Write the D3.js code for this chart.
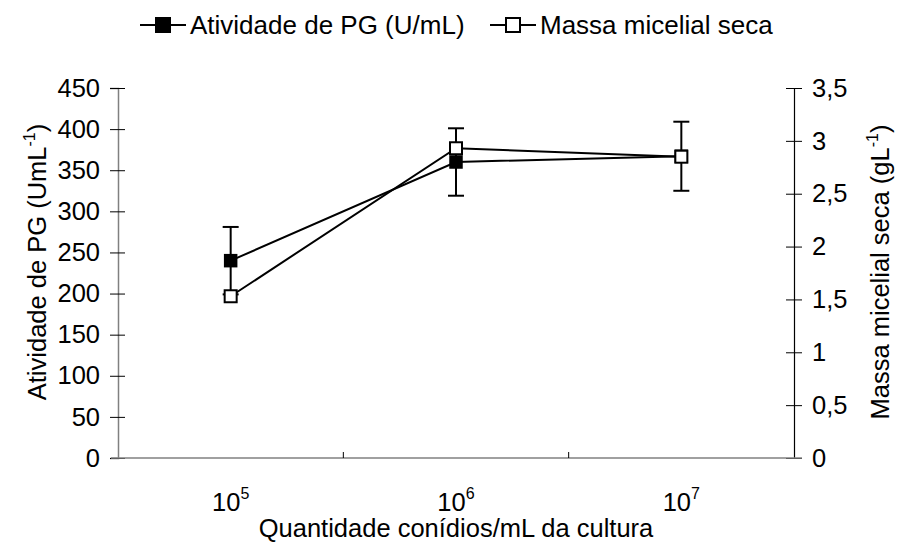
<!DOCTYPE html>
<html>
<head>
<meta charset="utf-8">
<script src="https://cdn.jsdelivr.net/npm/d3@7"></script>
<style>
  html, body { margin: 0; padding: 0; background: #fff; }
  svg { display: block; font-family: "Liberation Sans", Arial, sans-serif; }
</style>
</head>
<body>
<svg id="chart" width="897" height="543"></svg>
<script>
// Inoculum sizes (conidia/mL), shown as powers of ten
const categories = ["5", "6", "7"];
// PG activity (U/mL) with standard deviation
const pgActivity = [240, 360, 367];
const pgError = [41, 41, 42];
// Dry mycelial mass (g/L)
const dryMass = [1.53, 2.93, 2.85];
// Axis ticks
const leftTicks = [0, 50, 100, 150, 200, 250, 300, 350, 400, 450];
const rightTicks = [0, 0.5, 1, 1.5, 2, 2.5, 3, 3.5];

const svg = d3.select("#chart");
const m = { left: 118, right: 794, top: 88, bottom: 458 };
const fontSize = 25.5;
const supSize = 16;

const x = d3.scaleBand().domain(categories).range([m.left, m.right]);
const yL = d3.scaleLinear().domain([0, 450]).range([m.bottom, m.top]);
const yR = d3.scaleLinear().domain([0, 3.5]).range([m.bottom, m.top]);

const fmtComma = d => String(d).replace(".", ",");

// Left axis
const gL = svg.append("g").attr("transform", `translate(${m.left},0)`)
  .call(d3.axisLeft(yL).tickValues(leftTicks).tickSize(8).tickPadding(10));
gL.select(".domain").attr("stroke", "#808080").attr("stroke-width", 1.5);
gL.selectAll(".tick line").attr("x1", 7).attr("stroke", "#000");
gL.selectAll(".tick text").attr("font-size", fontSize).attr("font-family", "Liberation Sans, Arial, sans-serif").attr("fill", "#000");

// Right axis
const gR = svg.append("g").attr("transform", `translate(${m.right},0)`)
  .call(d3.axisRight(yR).tickValues(rightTicks).tickSize(8).tickPadding(10).tickFormat(fmtComma));
gR.select(".domain").attr("stroke", "#000").attr("stroke-width", 1.2);
gR.selectAll(".tick line").attr("x1", -8).attr("stroke", "#000");
gR.selectAll(".tick text").attr("font-size", fontSize).attr("font-family", "Liberation Sans, Arial, sans-serif").attr("fill", "#000");

// Bottom axis line and category separators
svg.append("line")
  .attr("x1", m.left - 7).attr("x2", m.right + 8)
  .attr("y1", m.bottom).attr("y2", m.bottom)
  .attr("stroke", "#808080").attr("stroke-width", 1.5);
svg.selectAll(".sep").data(categories.slice(1)).enter().append("line")
  .attr("class", "sep")
  .attr("x1", d => x(d)).attr("x2", d => x(d))
  .attr("y1", m.bottom).attr("y2", m.bottom - 6)
  .attr("stroke", "#000").attr("stroke-width", 1);

// Category labels 10^n
const xl = svg.selectAll(".xlab").data(categories).enter().append("text")
  .attr("class", "xlab")
  .attr("x", d => x(d) + x.bandwidth() / 2)
  .attr("y", 511)
  .attr("text-anchor", "middle")
  .attr("font-size", fontSize);
xl.append("tspan").text("10");
xl.append("tspan").attr("dy", -12).attr("font-size", supSize).text(d => d);

// Axis titles
svg.append("text")
  .attr("x", 456).attr("y", 537)
  .attr("text-anchor", "middle").attr("font-size", fontSize)
  .text("Quantidade conídios/mL da cultura");

const tl = svg.append("text")
  .attr("transform", "translate(46,262) rotate(-90)")
  .attr("text-anchor", "middle").attr("font-size", fontSize);
tl.append("tspan").text("Atividade de PG (UmL");
tl.append("tspan").attr("dy", -11).attr("font-size", supSize).text("-1");
tl.append("tspan").attr("dy", 11).text(")");

const tr = svg.append("text")
  .attr("transform", "translate(889,272) rotate(-90)")
  .attr("text-anchor", "middle").attr("font-size", fontSize);
tr.append("tspan").text("Massa micelial seca (gL");
tr.append("tspan").attr("dy", -11).attr("font-size", supSize).text("-1");
tr.append("tspan").attr("dy", 11).text(")");

const cx = i => x(categories[i]) + x.bandwidth() / 2;

// Error bars for PG activity
const eb = svg.append("g");
pgActivity.forEach((v, i) => {
  const xc = cx(i);
  eb.append("line").attr("x1", xc).attr("x2", xc)
    .attr("y1", yL(v - pgError[i])).attr("y2", yL(v + pgError[i]))
    .attr("stroke", "#000").attr("stroke-width", 2);
  [v - pgError[i], v + pgError[i]].forEach(e => {
    eb.append("line").attr("x1", xc - 8).attr("x2", xc + 8)
      .attr("y1", yL(e)).attr("y2", yL(e))
      .attr("stroke", "#000").attr("stroke-width", 2);
  });
});

// Series lines
const linePG = d3.line().x((d, i) => cx(i)).y(d => yL(d));
const lineMass = d3.line().x((d, i) => cx(i)).y(d => yR(d));
svg.append("path").attr("d", linePG(pgActivity))
  .attr("fill", "none").attr("stroke", "#000").attr("stroke-width", 2);
svg.append("path").attr("d", lineMass(dryMass))
  .attr("fill", "none").attr("stroke", "#000").attr("stroke-width", 2);

// Markers
const sq = 12;
svg.selectAll(".pg").data(pgActivity).enter().append("rect")
  .attr("class", "pg")
  .attr("x", (d, i) => cx(i) - sq / 2).attr("y", d => yL(d) - sq / 2)
  .attr("width", sq).attr("height", sq)
  .attr("fill", "#000").attr("stroke", "#000").attr("stroke-width", 1.5);
svg.selectAll(".mass").data(dryMass).enter().append("rect")
  .attr("class", "mass")
  .attr("x", (d, i) => cx(i) - sq / 2).attr("y", d => yR(d) - sq / 2)
  .attr("width", sq).attr("height", sq)
  .attr("fill", "#fff").attr("stroke", "#000").attr("stroke-width", 2);

// Legend
const legend = svg.append("g").attr("transform", "translate(0,25)");
const items = [
  { label: "Atividade de PG (U/mL)", fill: "#000", x0: 140 },
  { label: "Massa micelial seca", fill: "#fff", x0: 490 }
];
items.forEach(it => {
  const g = legend.append("g").attr("transform", `translate(${it.x0},0)`);
  g.append("line").attr("x1", 0).attr("x2", 46).attr("y1", 0).attr("y2", 0)
    .attr("stroke", "#000").attr("stroke-width", 2);
  g.append("rect").attr("x", 16).attr("y", -7).attr("width", 14).attr("height", 14)
    .attr("fill", it.fill).attr("stroke", "#000").attr("stroke-width", 2);
  g.append("text").attr("x", 50).attr("y", 9).attr("font-size", 26).text(it.label);
});
</script>
</body>
</html>
